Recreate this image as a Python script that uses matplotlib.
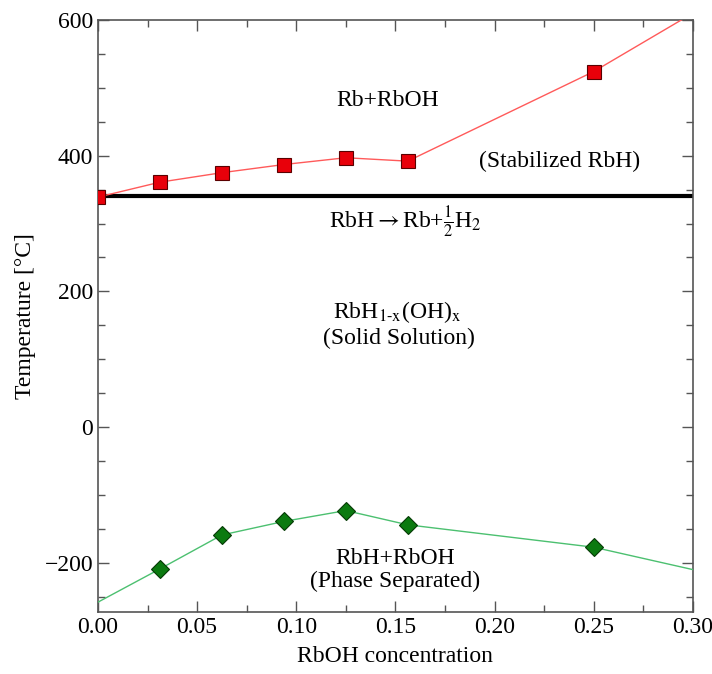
import matplotlib
matplotlib.use('Agg')
import matplotlib.pyplot as plt
from matplotlib.ticker import MultipleLocator, FormatStrFormatter

plt.rcParams['font.family'] = 'Liberation Serif'
plt.rcParams['mathtext.fontset'] = 'stix'

# decomposition curve (Rb+RbOH boundary)
red_x = [0.0, 0.03125, 0.0625, 0.09375, 0.125, 0.15625, 0.25]
red_y = [339, 361, 375, 387, 397, 392, 524]
red_line_x = red_x + [0.30]
red_line_y = red_y + [610]

# phase separation curve
green_x = [0.03125, 0.0625, 0.09375, 0.125, 0.15625, 0.25]
green_y = [-209, -159, -139, -123, -144, -177]
green_line_x = [0.0] + green_x + [0.30]
green_line_y = [-258] + green_y + [-210]

# RbH -> Rb + 1/2 H2
t_decomp = 340

fig = plt.figure(figsize=(7.12, 6.74), dpi=100)
ax = fig.add_axes([0.1376, 0.0925, 0.8354, 0.8778])

ax.axhline(t_decomp, color='black', lw=3, zorder=2)
ax.plot(red_line_x, red_line_y, color='#ff5a5a', lw=1, zorder=3)
ax.plot(red_x, red_y, 's', color='#e8000a', mec='#5a0000', mew=0.8, ms=10, zorder=4)
ax.plot(green_line_x, green_line_y, color='#4cc070', lw=1, zorder=3)
ax.plot(green_x, green_y, 'D', color='#0b7a10', mec='#053a05', mew=0.8, ms=9, zorder=4)

fs = 17
ax.text(0.146, 482, 'Rb+RbOH', ha='center', va='center', fontsize=fs)
ax.text(0.233, 391, '(Stabilized RbH)', ha='center', va='center', fontsize=fs)
ax.text(0.155, 302, r'RbH$\rightarrow$Rb+$\frac{1}{2}$H$_2$', ha='center', va='center', fontsize=fs)
ax.text(0.151, 170, r'RbH$_{\mathrm{1\text{-}x}}$(OH)$_{\mathrm{x}}$', ha='center', va='center', fontsize=fs)
ax.text(0.152, 130, '(Solid Solution)', ha='center', va='center', fontsize=fs)
ax.text(0.150, -194, 'RbH+RbOH', ha='center', va='center', fontsize=fs)
ax.text(0.150, -228, '(Phase Separated)', ha='center', va='center', fontsize=fs)

ax.set_xlim(0, 0.30)
ax.set_ylim(-272, 600)
ax.xaxis.set_major_locator(MultipleLocator(0.05))
ax.xaxis.set_minor_locator(MultipleLocator(0.025))
ax.yaxis.set_major_locator(MultipleLocator(200))
ax.yaxis.set_minor_locator(MultipleLocator(50))
ax.xaxis.set_major_formatter(FormatStrFormatter('%.2f'))
ax.tick_params(which='both', direction='in', top=True, right=True, color='#555555', labelsize=17)
ax.tick_params(which='major', length=8, width=1)
ax.tick_params(which='minor', length=5, width=1)
for s in ax.spines.values():
    s.set_color('#555555')
    s.set_linewidth(1.2)

ax.set_xlabel('RbOH concentration', fontsize=17, labelpad=6)
ax.set_ylabel('Temperature [°C]', fontsize=17, labelpad=6)

fig.savefig('out.png', dpi=100)
